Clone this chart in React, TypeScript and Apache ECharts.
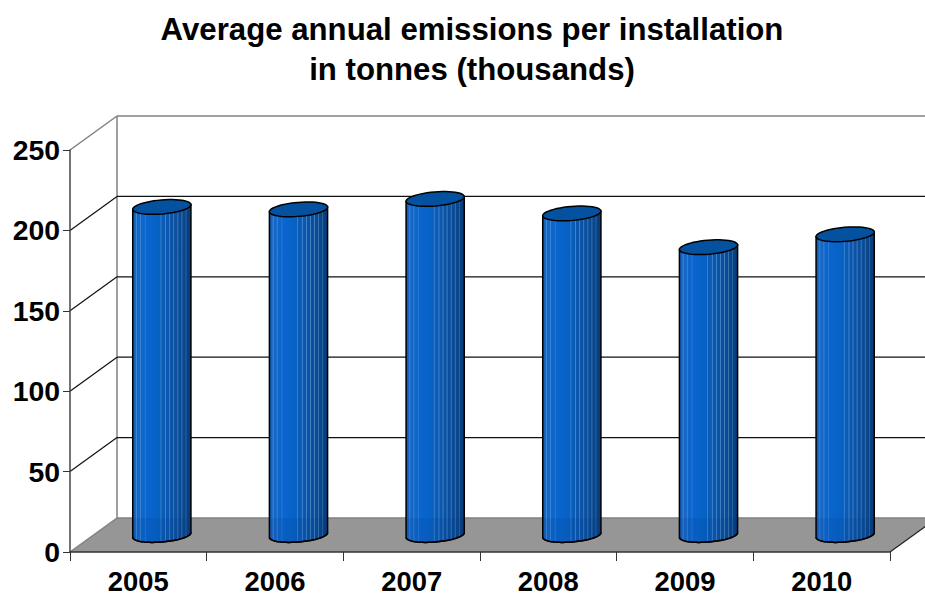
import React, { useEffect, useRef } from "react";
import * as echarts from "echarts";

const categories = ["2005", "2006", "2007", "2008", "2009", "2010"];
const emissions = [204, 202.5, 209, 200, 179, 187];
const gridValues = [0, 50, 100, 150, 200, 250];
const titleLines = "Average annual emissions per installation\nin tonnes (thousands)";

const DX = 47;
const DY = -34;
const RX = 29.2;
const RY = 7;
const TILT = (-4.8 * Math.PI) / 180;

// point on the rotated ellipse
const ep = (cx: number, cy: number, t: number) => {
  const a = RX * Math.cos(t);
  const b = RY * Math.sin(t);
  return [cx + a * Math.cos(TILT) - b * Math.sin(TILT), cy + a * Math.sin(TILT) + b * Math.cos(TILT)];
};

const stops = (() => {
  const base: [number, string][] = [
    [0, "#0f4f96"], [0.03, "#1560b8"], [0.05, "#1b68c4"], [0.065, "#3f88d8"], [0.08, "#1566c4"], [0.12, "#1668c8"],
    [0.135, "#3a88dc"], [0.15, "#0f66c8"], [0.2, "#0c66cc"], [0.215, "#2a7ad6"], [0.23, "#0a66ce"],
    [0.38, "#0763c8"], [0.47, "#0860c0"], [0.485, "#3d84cf"], [0.5, "#085cb8"], [0.55, "#0a5ab4"],
    [0.565, "#4a8ad0"], [0.58, "#0b58b0"], [0.62, "#0b56ac"], [0.635, "#4a88c8"], [0.65, "#0a54a8"],
    [0.69, "#0a52a4"], [0.705, "#4683c2"], [0.72, "#0a50a0"], [0.76, "#0a4e9c"], [0.775, "#4680bc"],
    [0.79, "#0a4c98"], [0.83, "#0a4a94"], [0.845, "#3f78b2"], [0.86, "#0a4890"], [0.9, "#09448a"],
    [0.915, "#2f6a9f"], [0.93, "#084284"], [1, "#073a74"],
  ];
  return base.map(([offset, color]) => ({ offset, color }));
})();

export default function App() {
  const ref = useRef<HTMLDivElement>(null);
  useEffect(() => {
    const chart = echarts.init(ref.current!, null, { renderer: "svg" });
    chart.setOption({
      animation: false,
      backgroundColor: "#ffffff",
      title: {
        text: titleLines,
        left: 467,
        top: 4,
        textAlign: "center",
        textStyle: {
          fontFamily: "Liberation Sans",
          fontWeight: "bold",
          fontSize: 31.2,
          lineHeight: 40,
          color: "#000",
        },
      },
      grid: { left: 70, top: 150, width: 820, height: 402, outerBoundsMode: "none" },
      xAxis: {
        type: "category",
        data: categories,
        axisLine: { lineStyle: { color: "#333", width: 1.5 } },
        axisTick: { show: true, length: 9, alignWithLabel: false, lineStyle: { color: "#333", width: 1 } },
        axisLabel: {
          fontFamily: "Liberation Sans",
          fontWeight: "bold",
          fontSize: 27.4,
          lineHeight: 26,
          color: "#000",
          margin: 16,
        },
        z: 5,
      },
      yAxis: {
        type: "value",
        min: 0,
        max: 250,
        interval: 50,
        splitLine: { show: false },
        axisLine: { show: true, lineStyle: { color: "#444", width: 1.5 } },
        axisTick: { show: true, length: 7, lineStyle: { color: "#333", width: 1 } },
        axisLabel: {
          fontFamily: "Liberation Sans",
          fontWeight: "bold",
          fontSize: 28.4,
          color: "#000",
          margin: 10,
          padding: [4, 0, 0, 0],
        },
        z: 5,
      },
      series: [
        {
          type: "custom",
          coordinateSystem: "cartesian2d",
          clip: false,
          silent: true,
          z: 1,
          data: gridValues.map((v) => [0, v]),
          renderItem: (_p: any, api: any) => {
            const v = api.value(1);
            const band = api.size([1, 0])[0];
            const c = api.coord([0, v]);
            const x0 = c[0] - band / 2;
            const x1 = x0 + band * categories.length;
            const y = c[1];
            const edge = v === 0 || v === 250;
            const children: any[] = [];
            if (v === 0) {
              children.push({
                type: "polygon",
                shape: {
                  points: [
                    [x0, y],
                    [x0 + DX, y + DY],
                    [x1 + DX, y + DY],
                    [x1, y],
                  ],
                },
                style: { fill: "#969696", stroke: "none" },
              });
            }
            children.push({
              type: "line",
              shape: { x1: x0, y1: y, x2: x0 + DX, y2: y + DY },
              style: { stroke: edge ? "#808080" : "#111", lineWidth: edge ? 1.5 : 1.2 },
            });
            children.push({
              type: "line",
              shape: { x1: x0 + DX, y1: y + DY, x2: x1 + DX, y2: y + DY },
              style: { stroke: edge ? "#808080" : "#111", lineWidth: edge ? 1.6 : 1.2 },
            });
            if (v === 0) {
              const top = api.coord([0, 250]);
              children.push({
                type: "line",
                shape: { x1: x0 + DX, y1: y + DY, x2: x0 + DX, y2: top[1] + DY },
                style: { stroke: "#808080", lineWidth: 1.5 },
              });
              children.push({
                type: "line",
                shape: { x1: x1, y1: y, x2: x1 + DX, y2: y + DY },
                style: { stroke: "#222", lineWidth: 1.2 },
              });
            }
            return { type: "group", children };
          },
        },
        {
          type: "custom",
          coordinateSystem: "cartesian2d",
          clip: false,
          silent: true,
          z: 3,
          data: emissions.map((v, i) => [i, v]),
          renderItem: (_p: any, api: any) => {
            const i = api.value(0);
            const v = api.value(1);
            const t = api.coord([i, v]);
            const b = api.coord([i, 0]);
            const cx = t[0] + DX / 2;
            const ty = t[1] + DY / 2;
            const by = b[1] + DY / 2;
            const floorY = b[1] + DY;
            const n = 48;
            const bottomPts: number[][] = [];
            for (let k = 0; k <= n; k++) bottomPts.push(ep(cx, by, (Math.PI * k) / n));
            const topPts: number[][] = [];
            for (let k = 0; k <= n; k++) topPts.push(ep(cx, ty, (Math.PI * 2 * k) / n));
            const body = [ep(cx, ty, 0), ...bottomPts, ep(cx, ty, Math.PI)];
            const shade = [[bottomPts[0][0], floorY], ...bottomPts, [bottomPts[n][0], floorY]];
            return {
              type: "group",
              children: [
                {
                  type: "polygon",
                  shape: { points: body },
                  style: {
                    fill: new echarts.graphic.LinearGradient(0, 0, 1, 0, stops),
                    stroke: "#000",
                    lineWidth: 1.5,
                  },
                },
                {
                  type: "polygon",
                  shape: { points: shade },
                  style: { fill: "rgba(0,50,120,0.12)", stroke: "none" },
                },
                {
                  type: "polyline",
                  shape: { points: bottomPts },
                  style: { fill: "none", stroke: "#000", lineWidth: 1.5 },
                },
                {
                  type: "polygon",
                  shape: { points: topPts },
                  style: { fill: "#03519f", stroke: "#000", lineWidth: 1.5 },
                },
              ],
            };
          },
        },
      ],
    });
    return () => chart.dispose();
  }, []);
  return <div ref={ref} style={{ position: "fixed", left: 0, top: 0, width: 925, height: 597 }} />;
}
